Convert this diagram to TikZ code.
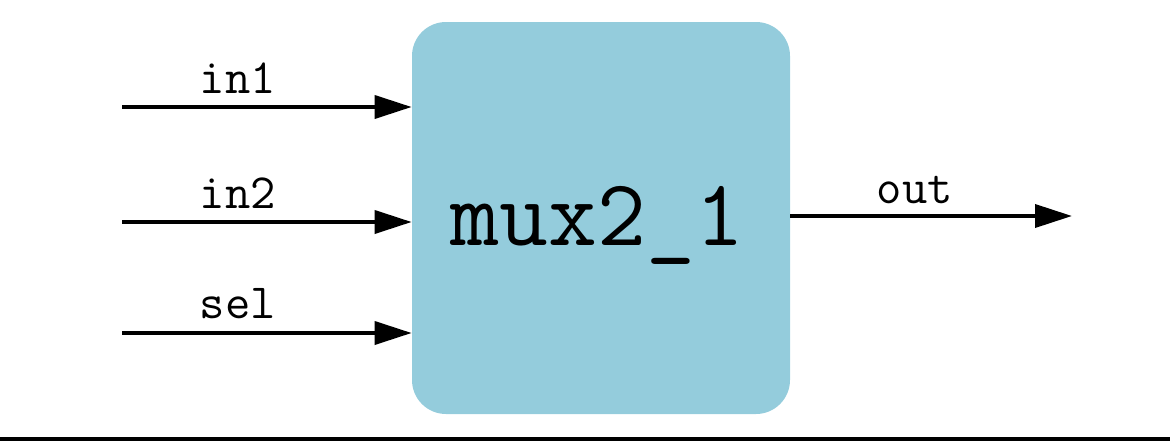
\documentclass[tikz,border=0pt]{standalone}
\usepackage{tikz}
\usetikzlibrary{arrows.meta,positioning,calc}
\definecolor{muxfill}{HTML}{94CCDC}

\begin{document}
\begin{tikzpicture}[
  sig/.style={line width=2.1pt, -{Triangle[length=0.74cm,width=0.46cm]}},
  lbl/.style={font=\fontsize{28}{32}\selectfont\ttfamily, anchor=base, inner sep=0pt},
  muxbox/.style={fill=muxfill, rounded corners=0.68cm, minimum width=7.56cm, minimum height=7.84cm, inner sep=0pt}]
\useasboundingbox (0,0) rectangle (23.4,8.82);
\fill[black] (0,0) rectangle (23.4,0.09);
\node[muxbox] (mux) at (12.02,4.46) {};
\node[font=\fontsize{54}{60}\selectfont\ttfamily, anchor=base, inner sep=0pt] (name) at (11.95,3.92) {mux2\_1};
\coordinate (a) at (2.44,6.68);
\coordinate (b) at (2.44,4.38);
\coordinate (s) at (2.44,2.16);
\coordinate (y) at (21.44,4.50);
\draw[sig] (a) -- (a -| mux.west);
\draw[sig] (b) -- (b -| mux.west);
\draw[sig] (s) -- (s -| mux.west);
\draw[sig] (y -| mux.east) -- (y);
\node[lbl] (la) at (4.76,6.96) {in1};
\node[lbl] (lb) at (4.76,4.66) {in2};
\node[lbl] (ls) at (4.76,2.46) {sel};
\node[lbl] (ly) at (18.30,4.76) {out};
\end{tikzpicture}
\end{document}
